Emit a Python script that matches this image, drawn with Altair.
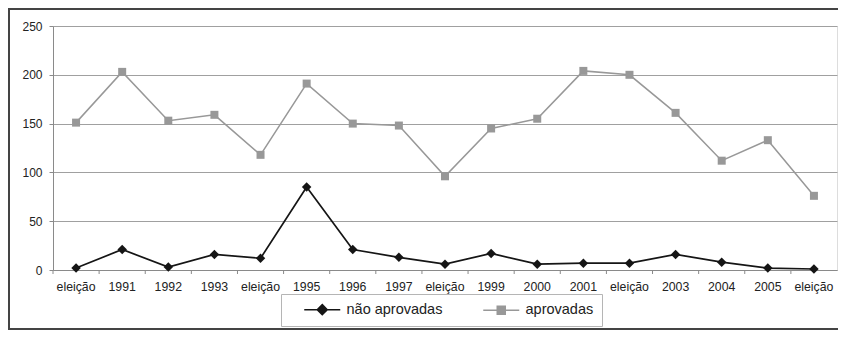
import altair as alt
import pandas as pd

labels = ["eleição", "1991", "1992", "1993", "eleição", "1995", "1996", "1997",
          "eleição", "1999", "2000", "2001", "eleição", "2003", "2004", "2005", "eleição"]
nao_aprovadas = [2, 21, 3, 16, 12, 85, 21, 13, 6, 17, 6, 7, 7, 16, 8, 2, 1]
aprovadas = [151, 203, 153, 159, 118, 191, 150, 148, 96, 145, 155, 204, 200, 161, 112, 133, 76]
series = ["não aprovadas", "aprovadas"]
y_ticks = [0, 50, 100, 150, 200, 250]

idx = list(range(len(labels)))
df_nao = pd.DataFrame({"idx": idx, "label": labels, "value": nao_aprovadas, "serie": series[0]})
df_apr = pd.DataFrame({"idx": idx, "label": labels, "value": aprovadas, "serie": series[1]})
df_all = pd.concat([df_nao, df_apr], ignore_index=True)
df_cat = pd.DataFrame({"idx": idx})

W, H = 784, 244
FONT = "Liberation Sans"
BLACK = "#151515"
GRAY = "#989898"
AXIS_GRAY = "#8a8a8a"

label_expr = "[" + ",".join("'%s'" % l for l in labels) + "][datum.value]"

xscale = alt.Scale(type="band", paddingInner=0, paddingOuter=0, domain=idx)
yscale = alt.Scale(domain=[0, 250], nice=False)

xaxis = alt.Axis(labelExpr=label_expr, labelAngle=0, ticks=False, grid=False,
                 domainColor=AXIS_GRAY, labelFont=FONT, labelFontSize=12.3,
                 labelColor="#222", labelPadding=10)
xenc = alt.X("idx:O", scale=xscale, title=None, axis=xaxis)
yenc = alt.Y("value:Q", scale=yscale, title=None,
             axis=alt.Axis(values=y_ticks, grid=True, gridColor="#a0a0a0", domainColor=AXIS_GRAY,
                           tickColor=AXIS_GRAY, tickSize=4, labelFont=FONT, labelFontSize=12,
                           labelColor="#222", labelPadding=7))

def series_layers(df, color, shape, size, sw):
    base = alt.Chart(df).encode(x=xenc, y=yenc)
    line = base.mark_line(color=color, strokeWidth=sw)
    pts = base.mark_point(shape=shape, filled=True, color=color, size=size, opacity=1)
    return [line, pts]

ticks = alt.Chart(df_cat).mark_rule(color=AXIS_GRAY).encode(
    x=alt.X("idx:O", scale=xscale, bandPosition=0, title=None, axis=xaxis),
    y=alt.value(H), y2=alt.value(H + 4))

path_nao = "M-3.6,0L3.6,0M0,-1L1,0L0,1L-1,0Z"
path_apr = "M-3.6,0L3.6,0M-0.8,-0.8L0.8,-0.8L0.8,0.8L-0.8,0.8Z"

legend_layer = alt.Chart(df_all).transform_filter("false").mark_point(
    filled=True, opacity=1, strokeWidth=1.5).encode(
    color=alt.Color("serie:N", scale=alt.Scale(domain=series, range=[BLACK, GRAY]),
                    legend=alt.Legend(title=None, orient="none", legendX=228, legendY=268,
                                      direction="horizontal", strokeColor="#b5b5b5",
                                      fillColor="white", padding=8, symbolSize=100,
                                      symbolOffset=26, labelOffset=17, columnPadding=25,
                                      labelFont=FONT, labelFontSize=14.5, labelColor="#222",
                                      symbolStrokeWidth=1.5,
                                      labelExpr="datum.label == 'aprovadas' ? datum.label + '\u00a0\u00a0\u00a0' : datum.label")),
    stroke=alt.Stroke("serie:N", scale=alt.Scale(domain=series, range=[BLACK, GRAY]), legend=None),
    shape=alt.Shape("serie:N", scale=alt.Scale(domain=series, range=[path_nao, path_apr]), legend=None),
)

frame_df = pd.DataFrame({"k": [0]})
frame_top = alt.Chart(frame_df).mark_rule(color="#444", strokeWidth=2).encode(
    x=alt.value(-45), x2=alt.value(W + 2), y=alt.value(-17))
frame_left = alt.Chart(frame_df).mark_rule(color="#444", strokeWidth=2).encode(
    x=alt.value(-44), y=alt.value(-18), y2=alt.value(304))
frame_bottom = alt.Chart(frame_df).mark_rule(color="#444", strokeWidth=2).encode(
    x=alt.value(-45), x2=alt.value(W + 2), y=alt.value(303))

layers = ([ticks] + series_layers(df_apr, GRAY, "square", 64, 1.5)
          + series_layers(df_nao, BLACK, "diamond", 90, 1.7)
          + [legend_layer, frame_top, frame_left, frame_bottom])

chart = alt.layer(*layers).properties(
    width=W, height=H,
    autosize=alt.AutoSizeParams(type="none"),
    padding={"left": 45, "top": 18, "right": 1, "bottom": 60},
).configure_view(stroke="#999", strokeWidth=1).configure(background="white")

chart.save("out.html", embed_options={"renderer": "svg", "actions": False})
